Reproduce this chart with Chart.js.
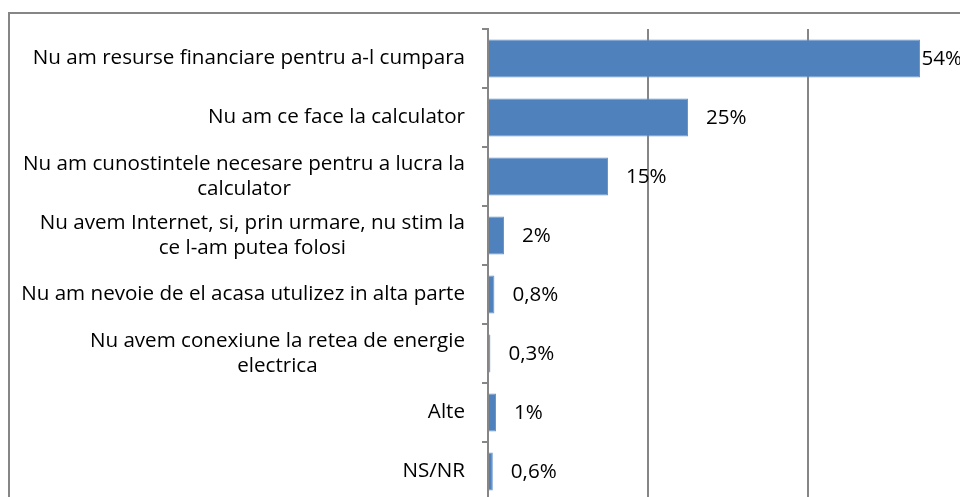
<!DOCTYPE html>
<html>
<head>
<meta charset="utf-8">
<script src="https://cdn.jsdelivr.net/npm/chart.js@4"></script>
<style>
  html, body { margin: 0; padding: 0; background: #fff; overflow: hidden; }
  #wrap { position: absolute; left: 0; top: 0; width: 1000px; height: 510px; }
</style>
</head>
<body>
<div id="wrap"><canvas id="motiveChart" width="1000" height="510"></canvas></div>
<script>
// Date
const categorii = [
    ['Nu am resurse financiare pentru a-l cumpara'],
    ['Nu am ce face la calculator'],
    ['Nu am cunostintele necesare pentru a lucra la', 'calculator'],
    ['Nu avem Internet, si, prin urmare, nu stim la', 'ce l-am putea folosi'],
    ['Nu am nevoie de el acasa utulizez in alta parte'],
    ['Nu avem conexiune la retea de energie', 'electrica'],
    ['Alte'],
    ['NS/NR']
];
const procente = [54, 25, 15, 2, 0.8, 0.3, 1, 0.6];
const etichete = ['54%', '25%', '15%', '2%', '0,8%', '0,3%', '1%', '0,6%'];
const xTicks = [0, 20, 40, 60];

const FONT = '20.6px "Open Sans", sans-serif';
const GRI = '#868686';

// chenarul exterior
const chenar = {
    id: 'chenar',
    beforeDraw(chart) {
        const c = chart.ctx;
        c.save();
        c.strokeStyle = GRI;
        c.lineWidth = 2;
        c.beginPath();
        c.moveTo(9, 520);
        c.lineTo(9, 13);
        c.lineTo(1000, 13);
        c.stroke();
        c.restore();
    }
};

// etichetele categoriilor (aliniate dreapta, randurile centrate)
const eticheteY = {
    id: 'eticheteY',
    afterDraw(chart) {
        const c = chart.ctx;
        const y = chart.scales.y;
        const lh = 25;
        c.save();
        c.font = FONT;
        c.fillStyle = '#000';
        c.textBaseline = 'middle';
        c.textAlign = 'center';
        categorii.forEach((linii, i) => {
            const w = Math.max(...linii.map(l => c.measureText(l).width));
            const cx = 465 - w / 2;
            const yc = y.getPixelForValue(i);
            const y0 = yc - (linii.length - 1) * lh / 2;
            linii.forEach((l, k) => c.fillText(l, cx, y0 + k * lh));
        });
        c.restore();
    }
};

// valorile de la capatul barelor
const valori = {
    id: 'valori',
    afterDatasetsDraw(chart) {
        const c = chart.ctx;
        const meta = chart.getDatasetMeta(0);
        c.save();
        c.font = FONT;
        c.fillStyle = '#000';
        c.textBaseline = 'middle';
        c.textAlign = 'left';
        meta.data.forEach((bar, i) => {
            const t = etichete[i];
            const w = c.measureText(t).width;
            let x = bar.x + 18;
            if (x + w > 962) x = 962 - w;
            c.fillText(t, x, bar.y + 1);
        });
        c.restore();
    }
};

new Chart(document.getElementById('motiveChart'), {
    type: 'bar',
    data: {
        labels: categorii.map(l => l.join(' ')),
        datasets: [{
            data: procente,
            backgroundColor: '#4F81BD',
            borderColor: '#6A95CB',
            borderWidth: 1,
            barPercentage: 0.645,
            categoryPercentage: 1
        }]
    },
    options: {
        indexAxis: 'y',
        responsive: false,
        animation: false,
        layout: { padding: { top: 29, right: 32, bottom: 9, left: 0 } },
        plugins: { legend: { display: false }, tooltip: { enabled: false } },
        scales: {
            x: {
                min: 0, max: 60,
                afterBuildTicks: s => { s.ticks = xTicks.map(v => ({ value: v })); },
                ticks: { display: false },
                grid: { color: GRI, lineWidth: 2, drawTicks: false },
                border: { display: false }
            },
            y: {
                afterFit: s => { s.width = 488; },
                ticks: { display: false },
                grid: { offset: true, drawOnChartArea: false, drawTicks: true, tickLength: 6, color: GRI, lineWidth: 2 },
                border: { display: true, color: GRI, width: 2 }
            }
        }
    },
    plugins: [chenar, eticheteY, valori]
});
</script>
</body>
</html>
